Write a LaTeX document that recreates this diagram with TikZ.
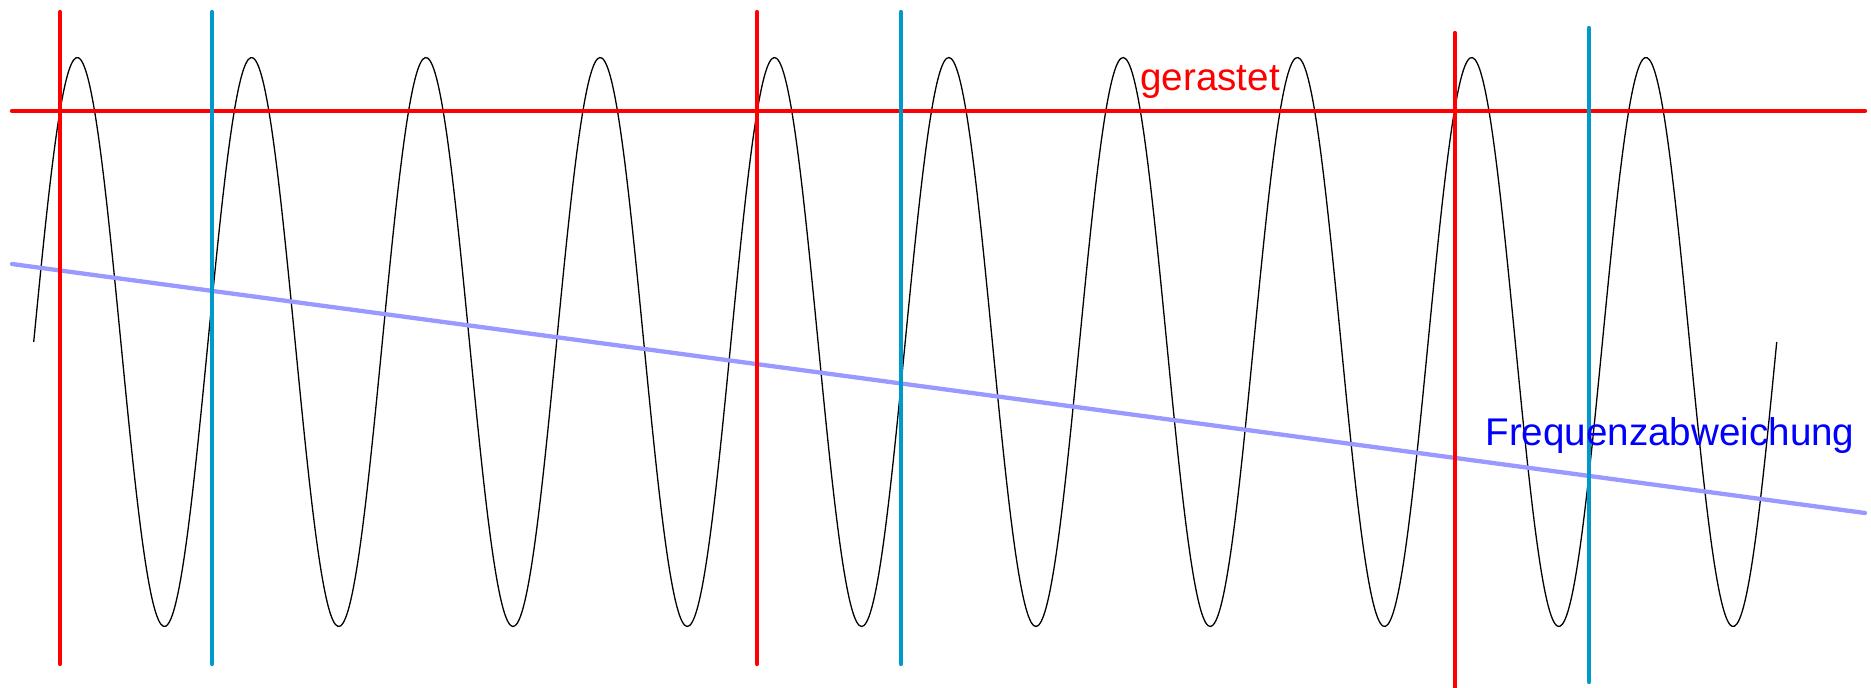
\documentclass[tikz,border=0pt]{standalone}
\usepackage{fontspec}
\setmainfont{Liberation Sans}
\definecolor{rastblau}{RGB}{0,153,204}
\definecolor{abwlila}{RGB}{153,153,255}

\begin{document}
\begin{tikzpicture}[x = 0.5pt, y = -0.5pt,
  rot/.style = {draw=red, line width=2.15pt, line cap=round},
  cyan/.style = {draw=rastblau, line width=2.15pt, line cap=round}]
\useasboundingbox (0, 0) rectangle (1871, 687);
% Signal
\draw[black, line width=0.65pt, domain=33.7:1776.7, samples=700, smooth]
  plot (\x, {342 - 284.5*sin(((\x - 33.7)/174.3)*360)});
% Frequenzabweichung
\coordinate (fa) at (12, 264);
\coordinate (fb) at (1865, 513);
\draw[abwlila, line width=2.15pt, line cap=round] (fa) -- (fb);
% gerastet
\coordinate (ga) at (12, 111);
\coordinate (gb) at (1865, 111);
\draw[rot] (ga) -- (gb);
\foreach \xa/\ya/\yb in {60/12/664, 757/12/664, 1455/33/690}
  \draw[rot] (\xa, \ya) -- (\xa, \yb);
\foreach \xb/\ya/\yb in {212/12/664, 901/12/664, 1589/28/682}
  \draw[cyan] (\xb, \ya) -- (\xb, \yb);
\node[anchor=base west, inner sep=0, text=red, font=\fontsize{19.3}{22}\selectfont] (rast) at (1140, 90) {gerastet};
\node[anchor=base west, inner sep=0, text=blue, font=\fontsize{19.3}{22}\selectfont] (abw) at (1485, 445) {Frequenzabweichung};
\end{tikzpicture}
\end{document}
